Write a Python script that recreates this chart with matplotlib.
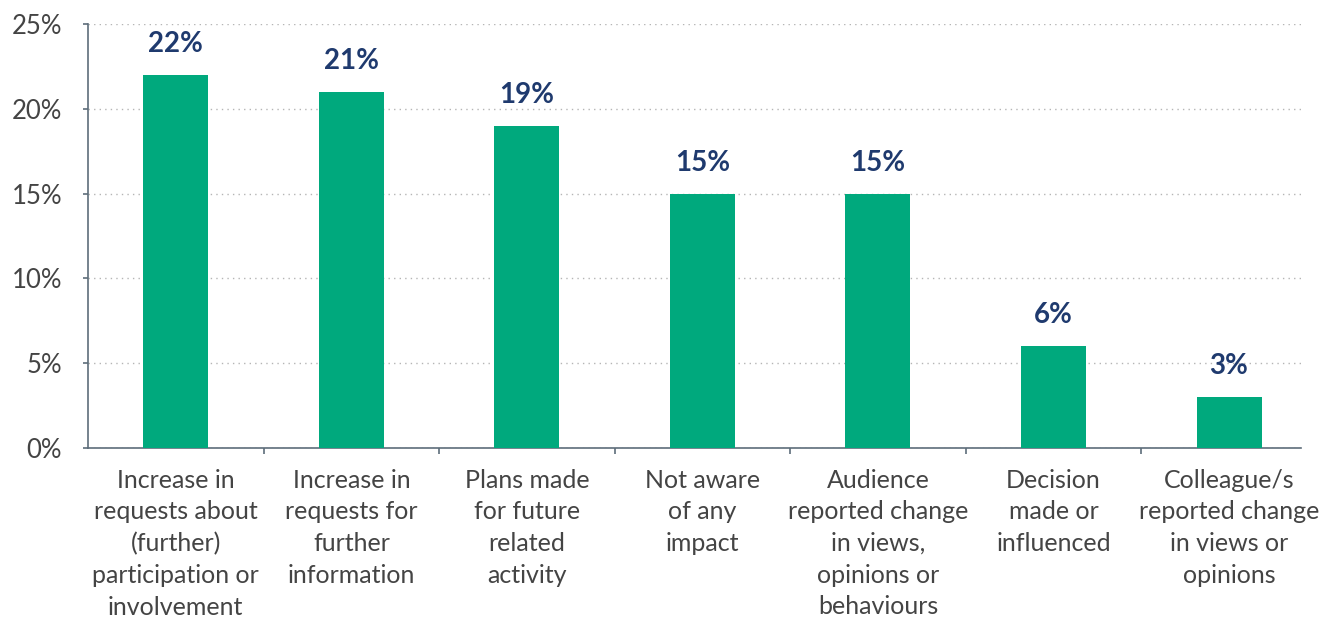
import matplotlib
matplotlib.use("Agg")
import matplotlib.pyplot as plt
from matplotlib.ticker import FixedLocator, PercentFormatter

categories = [
    "Increase in\nrequests about\n(further)\nparticipation or\ninvolvement",
    "Increase in\nrequests for\nfurther\ninformation",
    "Plans made\nfor future\nrelated\nactivity",
    "Not aware\nof any\nimpact",
    "Audience\nreported change\nin views,\nopinions or\nbehaviours",
    "Decision\nmade or\ninfluenced",
    "Colleague/s\nreported change\nin views or\nopinions",
]
values = [22, 21, 19, 15, 15, 6, 3]
yticks = [0, 5, 10, 15, 20, 25]

bar_color = "#00a97d"
label_color = "#1f3a6e"
axis_color = "#5d6d7a"
text_color = "#444444"

plt.rcParams["font.family"] = ["Lato", "DejaVu Sans"]

fig = plt.figure(figsize=(13.36, 6.18), dpi=100)
ax = fig.add_axes([0.0659, 0.275, 0.9079, 0.686])

x = list(range(len(values)))
ax.bar(x, values, width=0.37, color=bar_color, zorder=3)
for xi, v in zip(x, values):
    ax.annotate(f"{v}%", (xi, v), xytext=(0, 13), textcoords="offset points",
                ha="center", va="bottom", fontsize=20, fontweight="bold",
                color=label_color)

ax.set_xlim(-0.5, len(values) - 0.59)
ax.set_ylim(0, 25)
ax.set_yticks(yticks)
ax.yaxis.set_major_formatter(PercentFormatter(decimals=0))
ax.grid(axis="y", linestyle=(0, (1, 3)), color="#b5b5b5", linewidth=1, zorder=0)

ax.set_xticks(x)
ax.set_xticklabels(categories, fontsize=18, color=text_color, linespacing=1.45)
ax.xaxis.set_minor_locator(FixedLocator([i + 0.5 for i in range(len(values) - 1)]))
ax.tick_params(axis="x", which="major", length=0, pad=15)
ax.tick_params(axis="x", which="minor", length=4.5, color=axis_color, width=1.2)
ax.tick_params(axis="y", length=3.6, color=axis_color, width=1.2, labelsize=18.5,
               labelcolor=text_color, pad=15)

for s in ["top", "right"]:
    ax.spines[s].set_visible(False)
for s in ["left", "bottom"]:
    ax.spines[s].set_color(axis_color)
    ax.spines[s].set_linewidth(1.2)

fig.savefig("out.png", dpi=100)
